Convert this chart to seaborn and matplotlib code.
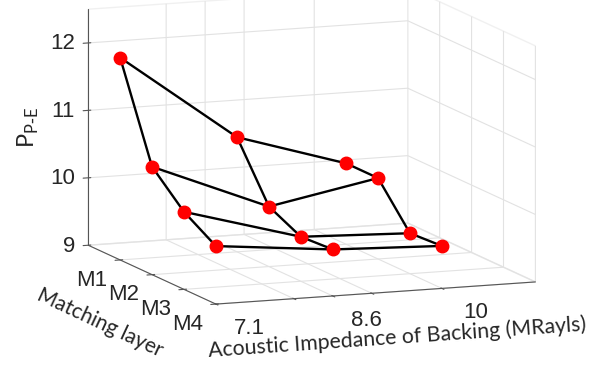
import matplotlib
matplotlib.use("Agg")
import matplotlib.pyplot as plt
import seaborn as sns
from mpl_toolkits.mplot3d import proj3d

# backing impedance (MRayls) and matching layers
impedance = [7.1, 8.6, 10.0]
imp_labels = ["7.1", "8.6", "10"]
layers = ["M1", "M2", "M3", "M4"]
layer_pos = [3, 2, 1, 0]  # M1 at the back, M4 at the front
# P_P-E, one row per matching layer, columns follow impedance
p_pe = [
    [12.0, 10.7, 10.2],
    [10.6, 9.89, 10.2],
    [10.15, 9.66, 9.6],
    [9.86, 9.69, 9.63],
]
z_ticks = [9, 10, 11, 12]

sns.set_style("white")
plt.rcParams["font.family"] = ["Liberation Sans", "DejaVu Sans"]
plt.rcParams["grid.color"] = "#e2e2e2"
plt.rcParams["grid.linewidth"] = 0.8

fig = plt.figure(figsize=(6.04, 3.69), dpi=100)
ax = fig.add_axes([0.008, 0.092, 1, 1], projection="3d", computed_zorder=False)
ax.set_proj_type("ortho")
ax.view_init(elev=10.3, azim=-111.2)
ax.set_box_aspect((1, 1.03, 0.70), zoom=1.44)

# wireframe: rows (fixed layer) and columns (fixed impedance)
for i, yp in enumerate(layer_pos):
    ax.plot(impedance, [yp] * len(impedance), p_pe[i], color="black", lw=1.7,
            zorder=2, clip_on=False)
for j, x in enumerate(impedance):
    ax.plot([x] * len(layers), layer_pos, [row[j] for row in p_pe],
            color="black", lw=1.7, zorder=2, clip_on=False)
for i, yp in enumerate(layer_pos):
    ax.plot(impedance, [yp] * len(impedance), p_pe[i], ls="none", marker="o",
            ms=9, color="red", zorder=3, clip_on=False)

ax.set_xlim(7.1, 11.2)
ax.set_ylim(0, 4)
ax.set_zlim(9, 12.5)
ax.set_xticks([7.1, 8.1, 8.6, 9.1, 10])
ax.set_yticks(layer_pos)
ax.set_zticks(z_ticks)
for axis in (ax.xaxis, ax.yaxis, ax.zaxis):
    axis.set_tick_params(labelbottom=False, labeltop=False, colors="#555555")
    axis.pane.set_facecolor("white")
    axis.pane.set_edgecolor("#e2e2e2")
    axis.line.set_color("#555555")
    axis.label.set_visible(False)
    axis.offsetText.set_visible(False)

# tick labels placed MATLAB-style next to the box edges:
# project the 3d anchor with the axes' own projection, then write a 2d text
fig.canvas.draw()


def label_at(x, y, z, s, **kw):
    px, py, _ = proj3d.proj_transform(x, y, z, ax.M)
    xd, yd = ax.transData.transform((px, py))
    fig.text(xd / fig.bbox.width, yd / fig.bbox.height, s, fontsize=16,
             color="#262626", va="center", **kw)


for x, s in zip(impedance, imp_labels):
    label_at(x, -1.06, 8.87, s, ha="center")
for yp, s in zip(layer_pos, layers):
    label_at(6.74, yp, 8.73, s, ha="center")
for z in z_ticks:
    label_at(6.93, 4, z, str(z), ha="right")

fig.text(0.047, 0.655, "P$_{\\mathregular{P\\text{-}E}}$", fontsize=17, rotation=90,
         family="Lato", ha="center", va="center")
fig.text(0.166, 0.125, "Matching layer", fontsize=15, rotation=-25, family="Lato",
         ha="center", va="center")
fig.text(0.657, 0.084, "Acoustic Impedance of Backing (MRayls)", fontsize=15.3,
         rotation=4, family="Lato", ha="center", va="center")

fig.savefig("out.png", dpi=100)
